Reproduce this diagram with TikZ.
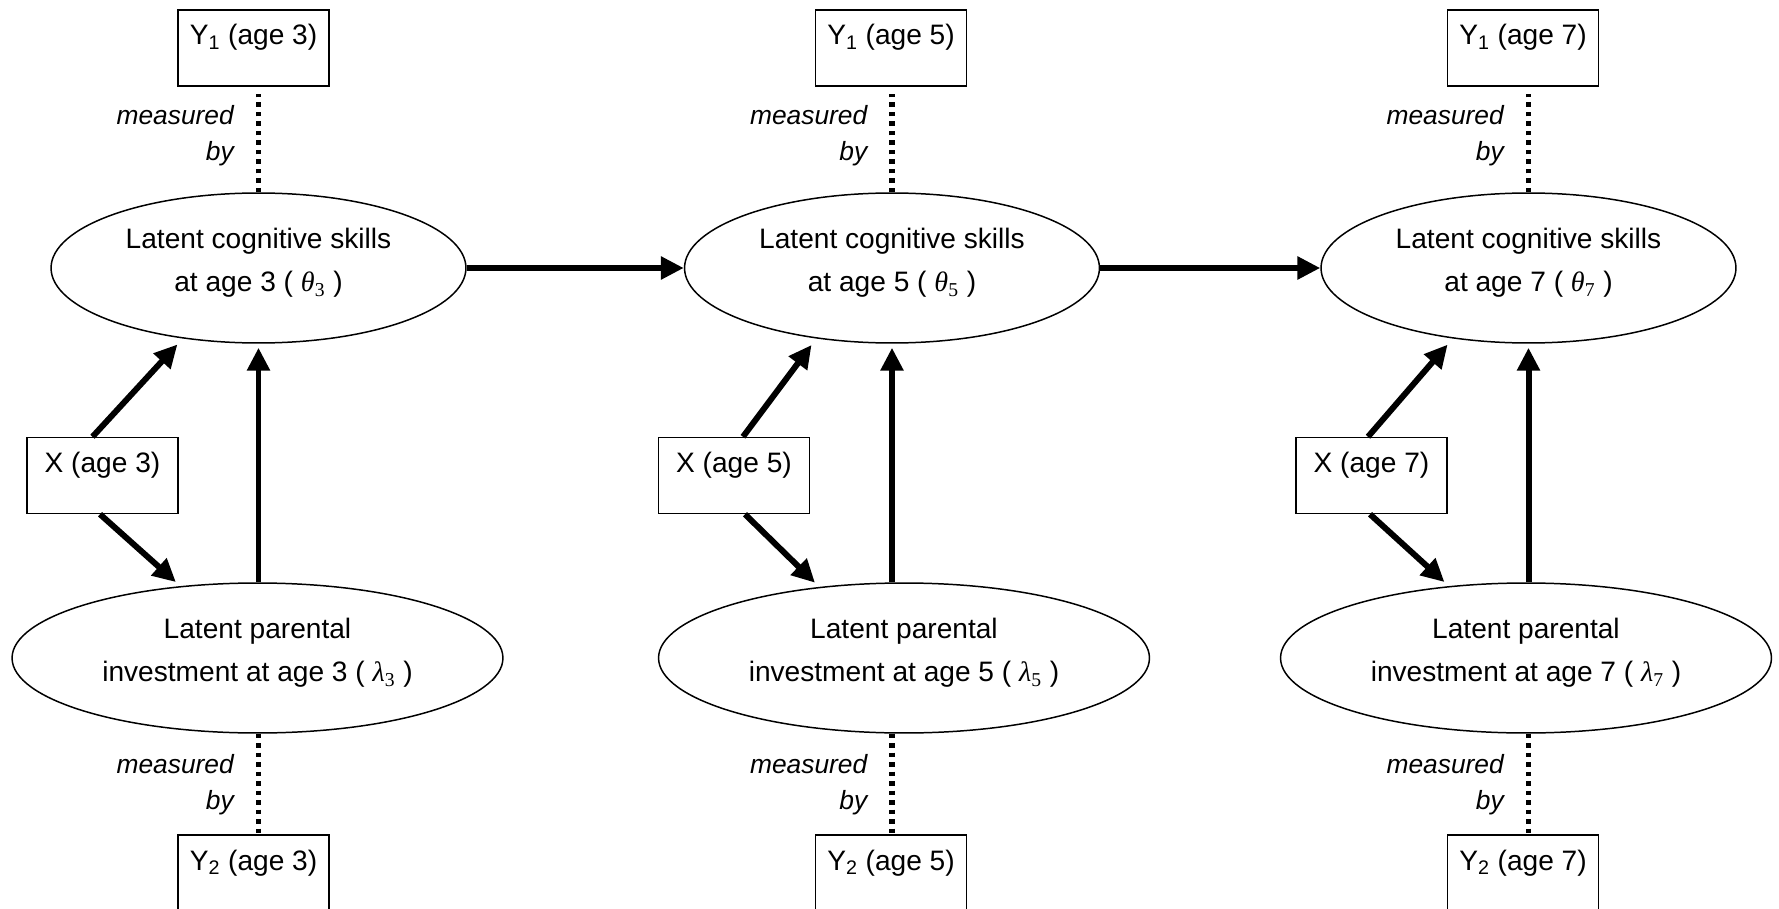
\documentclass[tikz,border=0pt]{standalone}
\usepackage{fontspec}
\setmainfont{Liberation Sans}
\newfontfamily\grkfont{Liberation Serif}
\usetikzlibrary{arrows.meta,shapes.geometric}
\newcommand{\lat}[2]{{\grkfont\itshape #1}\textsubscript{\grkfont #2}}

\begin{document}
\begin{tikzpicture}[x=0.02cm, y=-0.02cm,
    box/.style={draw, line width=0.85pt, inner sep=0pt, minimum width=3.02cm,
                text height=0.7cm, text depth=0.82cm, font=\fontsize{16}{19}\selectfont},
    latent/.style={draw, ellipse, line width=0.85pt, inner sep=0pt, minimum height=3cm,
                   align=center, text depth=0.33cm, font=\fontsize{16}{24.5}\selectfont},
    cog/.style={latent, minimum width=8.3cm},
    inv/.style={latent, minimum width=9.82cm},
    arr/.style={line width=3.4pt, -{Triangle[width=0.44cm,length=0.46cm]}},
    meas/.style={line width=0.11cm, dash pattern=on 0.09cm off 0.1cm},
    mlabel/.style={align=right, inner sep=0pt, font=\fontsize{15}{20.5}\selectfont\itshape}]
    \useasboundingbox (0,0) rectangle (1779,909);

    % age 3
    \node[box] (y13) at (253.5,48) {Y\textsubscript{1} (age 3)};
    \node[cog] (c3) at (258.5,268) {Latent cognitive skills\\at age 3 ( \lat{θ}{3} )};
    \node[box] (x3) at (102.5,475.5) {X (age 3)};
    \node[inv] (l3) at (257.5,658) {Latent parental\\investment at age 3 ( \lat{λ}{3} )};
    \node[box] (y23) at (253.5,873) {Y\textsubscript{2} (age 3)};

    % age 5
    \node[box] (y15) at (891,48) {Y\textsubscript{1} (age 5)};
    \node[cog] (c5) at (892,268) {Latent cognitive skills\\at age 5 ( \lat{θ}{5} )};
    \node[box] (x5) at (734,475.5) {X (age 5)};
    \node[inv] (l5) at (904,658) {Latent parental\\investment at age 5 ( \lat{λ}{5} )};
    \node[box] (y25) at (891,873) {Y\textsubscript{2} (age 5)};

    % age 7
    \node[box] (y17) at (1523,48) {Y\textsubscript{1} (age 7)};
    \node[cog] (c7) at (1528.5,268) {Latent cognitive skills\\at age 7 ( \lat{θ}{7} )};
    \node[box] (x7) at (1371.5,475.5) {X (age 7)};
    \node[inv] (l7) at (1526,658) {Latent parental\\investment at age 7 ( \lat{λ}{7} )};
    \node[box] (y27) at (1523,873) {Y\textsubscript{2} (age 7)};

    % measurement links
    \draw[meas, shorten >=0.14cm] (c3.north) -- node[mlabel, pos=0.54, left=0.44cm] {measured\\by} (c3.north |- y13.south);
    \draw[meas] (c3.south |- l3.south) -- node[mlabel, pos=0.51, left=0.44cm] {measured\\by} (c3.south |- y23.north);
    \draw[meas, shorten >=0.14cm] (c5.north) -- node[mlabel, pos=0.54, left=0.44cm] {measured\\by} (c5.north |- y15.south);
    \draw[meas] (c5.south |- l5.south) -- node[mlabel, pos=0.51, left=0.44cm] {measured\\by} (c5.south |- y25.north);
    \draw[meas, shorten >=0.14cm] (c7.north) -- node[mlabel, pos=0.54, left=0.44cm] {measured\\by} (c7.north |- y17.south);
    \draw[meas] (c7.south |- l7.south) -- node[mlabel, pos=0.51, left=0.44cm] {measured\\by} (c7.south |- y27.north);

    % paths within each age
    \draw[arr, shorten >=0.16cm] ([xshift=-0.2cm]x3.north) -- (c3.223);
    \draw[arr, shorten >=0.12cm] ([xshift=-0.05cm]x3.south) -- (l3.137);
    \draw[arr, shorten >=0.08cm] (c3.south |- l3.north) -- (c3.south);
    \draw[arr, shorten >=0.16cm] ([xshift=0.18cm]x5.north) -- (c5.223);
    \draw[arr, shorten >=0.12cm] ([xshift=0.22cm]x5.south) -- (l5.140);
    \draw[arr, shorten >=0.08cm] (c5.south |- l5.north) -- (c5.south);
    \draw[arr, shorten >=0.16cm] ([xshift=-0.07cm]x7.north) -- (c7.223);
    \draw[arr, shorten >=0.12cm] ([xshift=-0.03cm]x7.south) -- (l7.137);
    \draw[arr, shorten >=0.08cm] (c7.south |- l7.north) -- (c7.south);

    % skills carried over
    \draw[arr] (c3.east) -- (c5.west);
    \draw[arr] (c5.east) -- (c7.west);
\end{tikzpicture}
\end{document}
